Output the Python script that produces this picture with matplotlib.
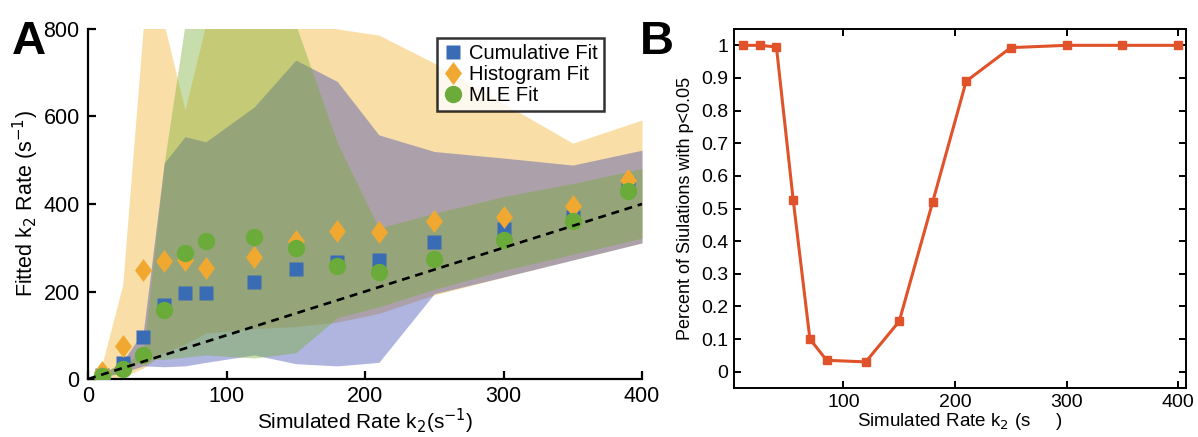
import numpy as np
import matplotlib
matplotlib.use("Agg")
import matplotlib.pyplot as plt
from matplotlib.path import Path

plt.rcParams['font.family'] = ['Liberation Sans', 'DejaVu Sans']

# panel A: fitted rates
sim_x = [10, 25, 40, 55, 70, 85, 120, 150, 180, 210, 250, 300, 350, 390]
cum_fit = [10, 36, 97, 169, 196, 196, 222, 251, 268, 272, 312, 342, 371, 445]
hist_fit = [17, 76, 248, 270, 272, 253, 278, 316, 338, 335, 361, 371, 396, 455]
mle_fit = [7, 24, 55, 158, 287, 316, 325, 299, 259, 245, 274, 318, 361, 430]

# spread of the fits
band_x = [10, 25, 40, 55, 70, 85, 120, 150, 180, 210, 250, 300, 350, 400]
hist_lo = [0, 5, 25, 60, 80, 105, 115, 120, 130, 150, 192, 233, 272, 311]
hist_hi = [32, 215, 810, 810, 615, 810, 850, 850, 800, 786, 722, 630, 539, 592]
cum_lo = [5, 15, 30, 28, 30, 38, 55, 35, 30, 38, 195, 233, 272, 311]
cum_hi = [10, 40, 110, 494, 554, 542, 622, 729, 680, 558, 520, 505, 489, 523]
mle_lo = [3, 15, 45, 45, 50, 55, 48, 60, 140, 165, 205, 248, 285, 322]
mle_hi = [15, 35, 60, 494, 810, 810, 810, 810, 540, 345, 379, 417, 447, 481]

# panel B: fraction significant
b_x = [10, 25, 40, 55, 70, 85, 120, 150, 180, 210, 250, 300, 350, 400]
b_frac = [1.0, 1.0, 0.995, 0.527, 0.10, 0.035, 0.03, 0.154, 0.52, 0.89, 0.993, 1.0, 1.0, 1.0]

c_blue = '#3A6BB5'
c_orange = '#F0A830'
c_green = '#6AAB3A'

diamond = Path([(0, 1), (0.74, 0), (0, -1), (-0.74, 0), (0, 1)],
               [Path.MOVETO, Path.LINETO, Path.LINETO, Path.LINETO, Path.CLOSEPOLY])

fig = plt.figure(figsize=(11.98, 4.37), dpi=100)
ax = fig.add_axes([0.0735, 0.1327, 0.4624, 0.801])
ax2 = fig.add_axes([0.6127, 0.1121, 0.3773, 0.8215])

ax.fill_between(band_x, hist_lo, hist_hi, color='#F0B024', alpha=0.4, lw=0)
ax.fill_between(band_x, cum_lo, cum_hi, color='#3946B1', alpha=0.4, lw=0)
ax.fill_between(band_x, mle_lo, mle_hi, color='#77AC30', alpha=0.4, lw=0)

ax.plot(sim_x, cum_fit, 's', color=c_blue, ms=10.5, mec='none', label='Cumulative Fit', zorder=3)
ax.plot(sim_x, hist_fit, marker=diamond, ls='none', color=c_orange, ms=16.5, mec='none', label='Histogram Fit', zorder=3)
ax.plot(sim_x, mle_fit, 'o', color=c_green, ms=12.5, mec='none', label='MLE Fit', zorder=3)
ax.plot([0, 400], [0, 400], '--', color='black', lw=1.9, dashes=(3, 2.2), zorder=4)

ax.set_xlim(0, 400)
ax.set_ylim(0, 800)
ax.set_xticks([0, 100, 200, 300, 400])
ax.set_yticks([0, 200, 400, 600, 800])
for s in ['top', 'right']:
    ax.spines[s].set_visible(False)
for s in ['left', 'bottom']:
    ax.spines[s].set_linewidth(1.6)
ax.tick_params(direction='in', length=6, width=1.6, labelsize=15.5, pad=6)
ax.tick_params(axis='x', pad=5)
ax.set_xlabel('Simulated Rate k$_2$(s$^{-1}$)', fontsize=15, labelpad=0)
ax.set_ylabel('Fitted k$_2$ Rate (s$^{-1}$)', fontsize=15.5, labelpad=2)
leg = ax.legend(loc='upper left', bbox_to_anchor=(0.63, 0.975), borderaxespad=0,
                fontsize=14.5, frameon=True, fancybox=False, edgecolor='black',
                handletextpad=0.3, labelspacing=0.1, borderpad=0.3, handlelength=1.0)
leg.get_frame().set_linewidth(1.8)

ax2.plot(b_x, b_frac, '-s', color='#E0522A', lw=2.2, ms=5.5)
ax2.set_xlim(2, 407)
ax2.set_ylim(-0.05, 1.05)
ax2.set_xticks([100, 200, 300, 400])
ax2.set_yticks(np.arange(0, 1.01, 0.1))
ax2.set_yticklabels(['0', '0.1', '0.2', '0.3', '0.4', '0.5', '0.6', '0.7', '0.8', '0.9', '1'])
for s in ax2.spines.values():
    s.set_linewidth(1.4)
ax2.tick_params(direction='in', length=5, width=1.4, labelsize=14, top=True, right=True, pad=4)
ax2.tick_params(axis='x', pad=4)
ax2.set_xlabel('Simulated Rate k$_2$ (s     )', fontsize=13.5, labelpad=0)
ax2.set_ylabel('Percent of Siulations with p<0.05', fontsize=13, labelpad=5)

fig.text(0.010, 0.955, 'A', fontsize=34, fontweight='bold', va='top')
fig.text(0.534, 0.955, 'B', fontsize=34, fontweight='bold', va='top')

fig.savefig('out.png', dpi=100)
